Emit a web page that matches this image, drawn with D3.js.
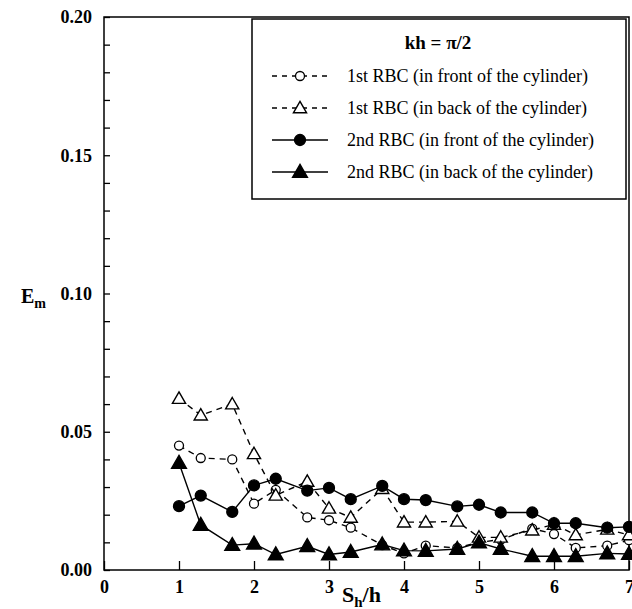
<!DOCTYPE html>
<html>
<head>
<meta charset="utf-8">
<script src="https://cdn.jsdelivr.net/npm/d3@7"></script>
<style>
  body { margin: 0; background: #fff; }
  text { font-family: "Liberation Serif", "Times New Roman", serif; }
</style>
</head>
<body>
<div id="chart"></div>
<script>
// data
var shOverH = [1, 1.29, 1.71, 2, 2.29, 2.71, 3, 3.29, 3.71, 4, 4.29, 4.71, 5, 5.29, 5.71, 6, 6.29, 6.71, 7];
var firstFront  = [0.045, 0.0405, 0.040, 0.024, 0.029, 0.019, 0.018, 0.0153, 0.009, 0.006, 0.0088, 0.008, 0.010, 0.011, 0.015, 0.013, 0.008, 0.0088, 0.0108];
var firstBack   = [0.062, 0.056, 0.060, 0.042, 0.027, 0.032, 0.0223, 0.019, 0.0294, 0.0173, 0.0173, 0.0176, 0.0118, 0.0118, 0.0144, 0.0165, 0.0127, 0.0147, 0.0127];
var secondFront = [0.0231, 0.0269, 0.021, 0.0306, 0.033, 0.0287, 0.0297, 0.0256, 0.0304, 0.0256, 0.0253, 0.023, 0.0236, 0.0208, 0.0208, 0.0169, 0.0169, 0.0153, 0.0156];
var secondBack  = [0.0387, 0.0163, 0.009, 0.0095, 0.0056, 0.0086, 0.0056, 0.0065, 0.0092, 0.007, 0.0069, 0.0076, 0.0099, 0.0076, 0.005, 0.005, 0.005, 0.006, 0.0058];
var xTicks = [0, 1, 2, 3, 4, 5, 6, 7];
var yTicks = [0.00, 0.05, 0.10, 0.15, 0.20];
var legendTitle = "kh = \u03c0/2";

var series = [
    {name: "1st RBC (in front of the cylinder)", values: firstFront,  dashed: true,  shape: "circle",   filled: false},
    {name: "1st RBC (in back of the cylinder)",  values: firstBack,   dashed: true,  shape: "triangle", filled: false},
    {name: "2nd RBC (in front of the cylinder)", values: secondFront, dashed: false, shape: "circle",   filled: true},
    {name: "2nd RBC (in back of the cylinder)",  values: secondBack,  dashed: false, shape: "triangle", filled: true}
];

var width = 632, height = 609,
    margin = {top: 17, right: 3, bottom: 39, left: 104};

var svg = d3.select("#chart").append("svg")
    .attr("width", width)
    .attr("height", height);

var x = d3.scaleLinear().domain([0, 7]).range([margin.left, width - margin.right]);
var y = d3.scaleLinear().domain([0, 0.20]).range([height - margin.bottom, margin.top]);

// frame
svg.append("rect")
    .attr("x", x(0)).attr("y", y(0.20))
    .attr("width", x(7) - x(0)).attr("height", y(0) - y(0.20))
    .attr("fill", "none").attr("stroke", "#000").attr("stroke-width", 1.5);

// y axis: minor ticks every 0.01, inward
var yAxis = d3.axisLeft(y)
    .tickValues(d3.range(0, 0.2001, 0.01))
    .tickSize(-6)
    .tickFormat(d => yTicks.some(t => Math.abs(t - d) < 1e-6) ? d3.format(".2f")(d) : "");
var gy = svg.append("g")
    .attr("transform", "translate(" + x(0) + ",0)")
    .call(yAxis);
gy.select(".domain").remove();
gy.selectAll("line").attr("stroke-width", 1.3);
gy.selectAll("text")
    .attr("x", -12)
    .attr("font-size", 18).attr("font-weight", "bold");

// x axis: ticks at integers, inward
var xAxis = d3.axisBottom(x)
    .tickValues(xTicks)
    .tickSize(-9)
    .tickFormat(d3.format("d"));
var gx = svg.append("g")
    .attr("transform", "translate(0," + y(0) + ")")
    .call(xAxis);
gx.select(".domain").remove();
gx.selectAll("line").attr("stroke-width", 1.3);
gx.selectAll("text")
    .attr("y", 10)
    .attr("font-size", 18).attr("font-weight", "bold");

// axis titles
var yl = svg.append("text")
    .attr("x", 21).attr("y", 303)
    .attr("font-size", 20).attr("font-weight", "bold");
yl.append("tspan").text("E");
yl.append("tspan").attr("font-size", 14).attr("dy", 5).text("m");

var xl = svg.append("text")
    .attr("x", 342).attr("y", 602)
    .attr("font-size", 22).attr("font-weight", "bold");
xl.append("tspan").text("S");
xl.append("tspan").attr("font-size", 15).attr("dy", 5).text("h");
xl.append("tspan").attr("dy", -5).text("/h");

// lines and markers
var line = d3.line()
    .x((d, i) => x(shOverH[i]))
    .y(d => y(d));

var tri = d3.symbol().type(d3.symbolTriangle);

function drawMarker(g, s, cx, cy) {
    if (s.shape === "circle") {
        g.append("circle")
            .attr("cx", cx).attr("cy", cy)
            .attr("r", s.filled ? 5.5 : 4.5)
            .attr("fill", s.filled ? "#000" : "#fff")
            .attr("stroke", "#000").attr("stroke-width", 1.3);
    } else {
        g.append("path")
            .attr("d", tri.size(s.filled ? 95 : 75)())
            .attr("transform", "translate(" + cx + "," + (cy + 1) + ")")
            .attr("fill", s.filled ? "#000" : "#fff")
            .attr("stroke", "#000").attr("stroke-width", 1.4);
    }
}

series.forEach(function(s) {
    var g = svg.append("g");
    g.append("path")
        .datum(s.values)
        .attr("d", line)
        .attr("fill", "none")
        .attr("stroke", "#000")
        .attr("stroke-width", 1.4)
        .attr("stroke-dasharray", s.dashed ? "6,5" : null);
    s.values.forEach((v, i) => drawMarker(g, s, x(shOverH[i]), y(v)));
});

// legend
var lg = svg.append("g");
lg.append("rect")
    .attr("x", 252).attr("y", 19)
    .attr("width", 374).attr("height", 180)
    .attr("fill", "#fff").attr("stroke", "#000").attr("stroke-width", 1.5);
lg.append("text")
    .attr("x", 438).attr("y", 49)
    .attr("text-anchor", "middle")
    .attr("font-size", 19).attr("font-weight", "bold")
    .text(legendTitle);

series.forEach(function(s, i) {
    var ly = 76 + i * 32;
    lg.append("line")
        .attr("x1", 272).attr("x2", 328)
        .attr("y1", ly).attr("y2", ly)
        .attr("stroke", "#000").attr("stroke-width", 1.4)
        .attr("stroke-dasharray", s.dashed ? "5,5" : null);
    drawMarker(lg, s, 300, ly);
    lg.append("text")
        .attr("x", 347).attr("y", ly + 6)
        .attr("font-size", 18)
        .text(s.name);
});
</script>
</body>
</html>
